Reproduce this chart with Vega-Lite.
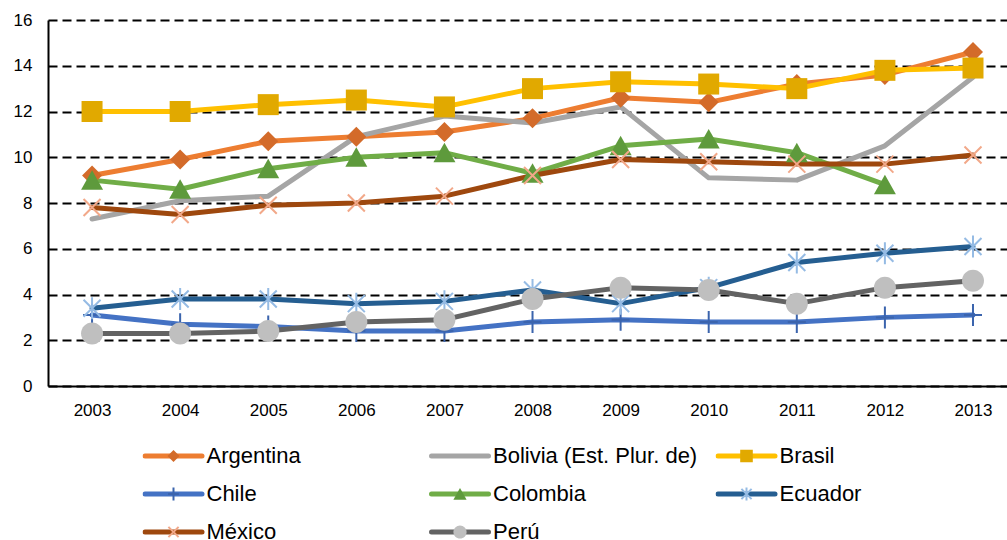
{
  "$schema": "https://vega.github.io/schema/vega-lite/v6.json",
  "autosize": {"type": "none"},
  "padding": {"left": 48, "top": 20, "right": 0, "bottom": 154},
  "width": 959,
  "height": 366,
  "background": "#ffffff",
  "config": {
    "view": {"stroke": null},
    "font": "Liberation Sans",
    "axis": {"labelFont": "Liberation Sans", "labelFontSize": 17, "labelColor": "#000000", "ticks": false, "tickSize": 0, "domainColor": "#000000", "domainWidth": 2, "title": null}
  },
  "data": {
    "values": [
      {"year": 2003, "country": "Argentina", "value": 9.2},
      {"year": 2004, "country": "Argentina", "value": 9.9},
      {"year": 2005, "country": "Argentina", "value": 10.7},
      {"year": 2006, "country": "Argentina", "value": 10.9},
      {"year": 2007, "country": "Argentina", "value": 11.1},
      {"year": 2008, "country": "Argentina", "value": 11.7},
      {"year": 2009, "country": "Argentina", "value": 12.6},
      {"year": 2010, "country": "Argentina", "value": 12.4},
      {"year": 2011, "country": "Argentina", "value": 13.2},
      {"year": 2012, "country": "Argentina", "value": 13.6},
      {"year": 2013, "country": "Argentina", "value": 14.6},
      {"year": 2003, "country": "Bolivia (Est. Plur. de)", "value": 7.3},
      {"year": 2004, "country": "Bolivia (Est. Plur. de)", "value": 8.1},
      {"year": 2005, "country": "Bolivia (Est. Plur. de)", "value": 8.3},
      {"year": 2006, "country": "Bolivia (Est. Plur. de)", "value": 10.9},
      {"year": 2007, "country": "Bolivia (Est. Plur. de)", "value": 11.8},
      {"year": 2008, "country": "Bolivia (Est. Plur. de)", "value": 11.5},
      {"year": 2009, "country": "Bolivia (Est. Plur. de)", "value": 12.2},
      {"year": 2010, "country": "Bolivia (Est. Plur. de)", "value": 9.1},
      {"year": 2011, "country": "Bolivia (Est. Plur. de)", "value": 9.0},
      {"year": 2012, "country": "Bolivia (Est. Plur. de)", "value": 10.5},
      {"year": 2013, "country": "Bolivia (Est. Plur. de)", "value": 13.5},
      {"year": 2003, "country": "Brasil", "value": 12.0},
      {"year": 2004, "country": "Brasil", "value": 12.0},
      {"year": 2005, "country": "Brasil", "value": 12.3},
      {"year": 2006, "country": "Brasil", "value": 12.5},
      {"year": 2007, "country": "Brasil", "value": 12.2},
      {"year": 2008, "country": "Brasil", "value": 13.0},
      {"year": 2009, "country": "Brasil", "value": 13.3},
      {"year": 2010, "country": "Brasil", "value": 13.2},
      {"year": 2011, "country": "Brasil", "value": 13.0},
      {"year": 2012, "country": "Brasil", "value": 13.8},
      {"year": 2013, "country": "Brasil", "value": 13.9},
      {"year": 2003, "country": "Chile", "value": 3.1},
      {"year": 2004, "country": "Chile", "value": 2.7},
      {"year": 2005, "country": "Chile", "value": 2.6},
      {"year": 2006, "country": "Chile", "value": 2.4},
      {"year": 2007, "country": "Chile", "value": 2.4},
      {"year": 2008, "country": "Chile", "value": 2.8},
      {"year": 2009, "country": "Chile", "value": 2.9},
      {"year": 2010, "country": "Chile", "value": 2.8},
      {"year": 2011, "country": "Chile", "value": 2.8},
      {"year": 2012, "country": "Chile", "value": 3.0},
      {"year": 2013, "country": "Chile", "value": 3.1},
      {"year": 2003, "country": "Colombia", "value": 9.0},
      {"year": 2004, "country": "Colombia", "value": 8.6},
      {"year": 2005, "country": "Colombia", "value": 9.5},
      {"year": 2006, "country": "Colombia", "value": 10.0},
      {"year": 2007, "country": "Colombia", "value": 10.2},
      {"year": 2008, "country": "Colombia", "value": 9.3},
      {"year": 2009, "country": "Colombia", "value": 10.5},
      {"year": 2010, "country": "Colombia", "value": 10.8},
      {"year": 2011, "country": "Colombia", "value": 10.2},
      {"year": 2012, "country": "Colombia", "value": 8.8},
      {"year": 2003, "country": "Ecuador", "value": 3.4},
      {"year": 2004, "country": "Ecuador", "value": 3.8},
      {"year": 2005, "country": "Ecuador", "value": 3.8},
      {"year": 2006, "country": "Ecuador", "value": 3.6},
      {"year": 2007, "country": "Ecuador", "value": 3.7},
      {"year": 2008, "country": "Ecuador", "value": 4.2},
      {"year": 2009, "country": "Ecuador", "value": 3.6},
      {"year": 2010, "country": "Ecuador", "value": 4.3},
      {"year": 2011, "country": "Ecuador", "value": 5.4},
      {"year": 2012, "country": "Ecuador", "value": 5.8},
      {"year": 2013, "country": "Ecuador", "value": 6.1},
      {"year": 2003, "country": "México", "value": 7.8},
      {"year": 2004, "country": "México", "value": 7.5},
      {"year": 2005, "country": "México", "value": 7.9},
      {"year": 2006, "country": "México", "value": 8.0},
      {"year": 2007, "country": "México", "value": 8.3},
      {"year": 2008, "country": "México", "value": 9.2},
      {"year": 2009, "country": "México", "value": 9.9},
      {"year": 2010, "country": "México", "value": 9.8},
      {"year": 2011, "country": "México", "value": 9.7},
      {"year": 2012, "country": "México", "value": 9.7},
      {"year": 2013, "country": "México", "value": 10.1},
      {"year": 2003, "country": "Perú", "value": 2.3},
      {"year": 2004, "country": "Perú", "value": 2.3},
      {"year": 2005, "country": "Perú", "value": 2.4},
      {"year": 2006, "country": "Perú", "value": 2.8},
      {"year": 2007, "country": "Perú", "value": 2.9},
      {"year": 2008, "country": "Perú", "value": 3.8},
      {"year": 2009, "country": "Perú", "value": 4.3},
      {"year": 2010, "country": "Perú", "value": 4.2},
      {"year": 2011, "country": "Perú", "value": 3.6},
      {"year": 2012, "country": "Perú", "value": 4.3},
      {"year": 2013, "country": "Perú", "value": 4.6}
    ]
  },
  "encoding": {
    "x": {
      "field": "year", "type": "quantitative",
      "scale": {"domain": [2002.5, 2013.386], "nice": false, "zero": false},
      "axis": {"values": [2003, 2004, 2005, 2006, 2007, 2008, 2009, 2010, 2011, 2012, 2013], "format": "d", "grid": false, "labelPadding": 16, "labelFlush": false, "labelOverlap": false}
    },
    "y": {
      "field": "value", "type": "quantitative",
      "scale": {"domain": [0, 16], "nice": false},
      "axis": {"values": [0, 2, 4, 6, 8, 10, 12, 14, 16], "grid": true, "gridColor": "#000000", "gridDash": [9, 5], "gridWidth": 1.8, "labelPadding": 16}
    }
  },
  "layer": [
    {
      "mark": {"type": "line", "strokeWidth": 5, "strokeCap": "round", "strokeJoin": "round"},
      "encoding": {
        "color": {
          "field": "country", "type": "nominal",
          "scale": {
            "domain": ["Argentina", "Bolivia (Est. Plur. de)", "Brasil", "Chile", "Colombia", "Ecuador", "México", "Perú"],
            "range": ["#ED7D31", "#A5A5A5", "#FFC000", "#4472C4", "#70AD47", "#255E91", "#9E480E", "#636363"]
          },
          "legend": {
            "orient": "none", "direction": "horizontal", "legendX": 94.5, "legendY": 426, "columns": 3, "gridAlign": "all",
            "columnPadding": 17.5, "rowPadding": 16, "symbolType": "stroke", "symbolSize": 3249,
            "symbolStrokeWidth": 5, "symbolOffset": 0, "labelOffset": 2, "labelFontSize": 22,
            "labelFont": "Liberation Sans", "labelColor": "#000000", "clipHeight": 20, "title": null,
            "padding": 0, "labelLimit": 400, "zindex": 0,
            "encode": {"symbols": {"update": {"strokeCap": {"value": "round"}}}}
          }
        }
      }
    },
    {
      "mark": {"type": "point", "size": 400, "strokeWidth": 2, "opacity": 1, "filled": true},
      "encoding": {
        "fill": {
          "field": "country", "type": "nominal",
          "scale": {"range": ["#D36B2A", "transparent", "#E1A900", "transparent", "#5E9A3C", "transparent", "transparent", "#BFBFBF"]},
          "legend": {
            "orient": "none", "direction": "horizontal", "legendX": 94.5, "legendY": 426, "columns": 3, "gridAlign": "all",
            "columnPadding": 17.5, "rowPadding": 16, "symbolSize": 144, "symbolStrokeWidth": 2,
            "symbolOffset": 20, "labelOffset": 22, "labelFontSize": 22, "labelFont": "Liberation Sans",
            "labelColor": "transparent", "clipHeight": 20, "title": null, "padding": 0, "labelLimit": 400, "zindex": 1
          }
        },
        "stroke": {
          "field": "country", "type": "nominal",
          "scale": {"range": ["transparent", "transparent", "transparent", "#3B64AD", "transparent", "#95BBE4", "#F2A889", "transparent"]},
          "legend": {
            "orient": "none", "direction": "horizontal", "legendX": 94.5, "legendY": 426, "columns": 3, "gridAlign": "all",
            "columnPadding": 17.5, "rowPadding": 16, "symbolSize": 144, "symbolStrokeWidth": 2,
            "symbolOffset": 20, "labelOffset": 22, "labelFontSize": 22, "labelFont": "Liberation Sans",
            "labelColor": "transparent", "clipHeight": 20, "title": null, "padding": 0, "labelLimit": 400, "zindex": 1
          }
        },
        "shape": {
          "field": "country", "type": "nominal",
          "scale": {"range": [
            "M0,-1L1,0L0,1L-1,0Z",
            "M0,0",
            "M-1.05,-1.05L1.05,-1.05L1.05,1.05L-1.05,1.05Z",
            "M0,-1.1L0,1.1M-0.9,0L0.9,0",
            "M0,-1L1.1,0.95L-1.1,0.95Z",
            "M-0.85,-0.85L0.85,0.85M-0.85,0.85L0.85,-0.85M0,-1.1L0,1.1",
            "M-0.85,-0.85L0.85,0.85M-0.85,0.85L0.85,-0.85",
            "M-1.1,0A1.1,1.1,0,1,1,1.1,0A1.1,1.1,0,1,1,-1.1,0Z"
          ]},
          "legend": {
            "orient": "none", "direction": "horizontal", "legendX": 94.5, "legendY": 426, "columns": 3, "gridAlign": "all",
            "columnPadding": 17.5, "rowPadding": 16, "symbolSize": 144, "symbolStrokeWidth": 2,
            "symbolOffset": 20, "labelOffset": 22, "labelFontSize": 22, "labelFont": "Liberation Sans",
            "labelColor": "transparent", "clipHeight": 20, "title": null, "padding": 0, "labelLimit": 400, "zindex": 1
          }
        }
      }
    }
  ]
}
